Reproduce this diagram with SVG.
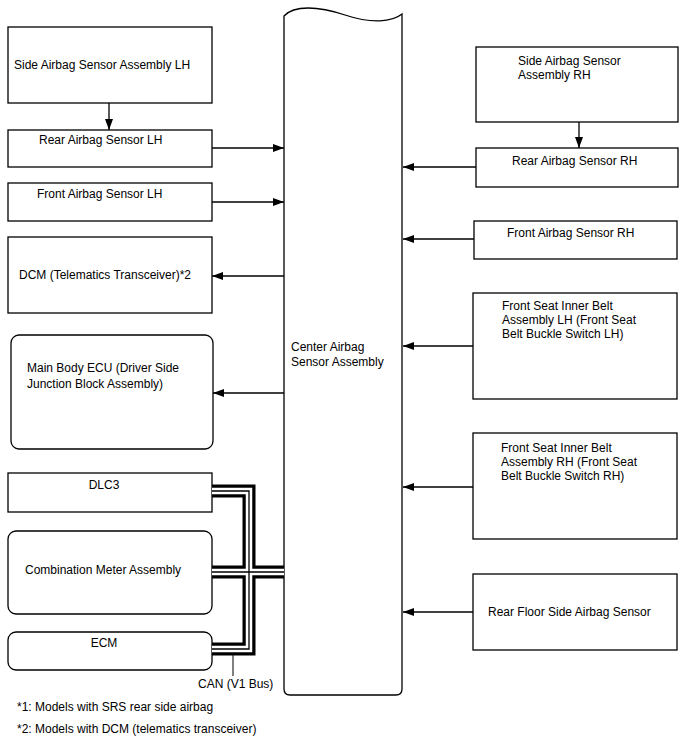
<svg xmlns="http://www.w3.org/2000/svg" width="688" height="755" viewBox="0 0 688 755">
<style>
.box{fill:#fff;stroke:#000;stroke-width:1.3}
.t{font-family:"Liberation Sans",Arial,sans-serif;font-size:12px;fill:#000}
.c{text-anchor:middle}
.ln{fill:none;stroke:#000;stroke-width:1.3}
.b1{fill:none;stroke:#000;stroke-width:13;stroke-linejoin:miter}
.b2{fill:none;stroke:#fff;stroke-width:6.5;stroke-linejoin:miter}
.b3{fill:none;stroke:#000;stroke-width:1.3;stroke-linejoin:miter}
</style>
<defs>
<marker id="ah" markerUnits="userSpaceOnUse" markerWidth="11" markerHeight="8" refX="11" refY="4" orient="auto">
<path d="M0,0 L11,4 L0,8 z" fill="#000"/>
</marker>
</defs>
<rect width="688" height="755" fill="#fff"/>

<g id="center">
<path class="box" d="M284,16 C294,5 318,6 345,15 C372,24 392,22 402,14 V689 Q402,695 396,695 H290 Q284,695 284,689 Z"/>
<text class="t" x="291" y="351">Center Airbag</text>
<text class="t" x="291" y="366">Sensor Assembly</text>
</g>

<g id="side-lh"><rect class="box" x="8" y="27" width="204" height="76"/><text class="t" x="14" y="69">Side Airbag Sensor Assembly LH</text></g>
<g id="rear-lh"><rect class="box" x="8" y="130" width="204" height="37"/><text class="t" x="39" y="144">Rear Airbag Sensor LH</text></g>
<g id="front-lh"><rect class="box" x="8" y="183" width="204" height="38"/><text class="t" x="37" y="198">Front Airbag Sensor LH</text></g>
<g id="dcm"><rect class="box" x="8" y="237" width="204" height="76"/><text class="t" x="19" y="279">DCM (Telematics Transceiver)*2</text></g>
<g id="main-body"><rect class="box" x="11" y="335" width="202" height="114" rx="8"/><text class="t" x="27" y="372">Main Body ECU (Driver Side</text><text class="t" x="27" y="388">Junction Block Assembly)</text></g>
<g id="dlc3"><rect class="box" x="8" y="473" width="204" height="39"/><text class="t c" x="104" y="489">DLC3</text></g>
<g id="meter"><rect class="box" x="8" y="531" width="204" height="83" rx="8"/><text class="t" x="25" y="574">Combination Meter Assembly</text></g>
<g id="ecm"><rect class="box" x="8" y="632" width="204" height="38" rx="8"/><text class="t c" x="104" y="647">ECM</text></g>

<g id="side-rh"><rect class="box" x="476" y="47" width="202" height="75"/><text class="t" x="518" y="65">Side Airbag Sensor</text><text class="t" x="518" y="79">Assembly RH</text></g>
<g id="rear-rh"><rect class="box" x="476" y="148" width="202" height="39"/><text class="t" x="512" y="165">Rear Airbag Sensor RH</text></g>
<g id="front-rh"><rect class="box" x="474" y="221" width="203" height="38"/><text class="t" x="507" y="237">Front Airbag Sensor RH</text></g>
<g id="belt-lh"><rect class="box" x="473" y="293" width="204" height="106"/><text class="t" x="502" y="310">Front Seat Inner Belt</text><text class="t" x="502" y="324">Assembly LH (Front Seat</text><text class="t" x="502" y="338">Belt Buckle Switch LH)</text></g>
<g id="belt-rh"><rect class="box" x="473" y="433" width="204" height="106"/><text class="t" x="501" y="452">Front Seat Inner Belt</text><text class="t" x="501" y="466">Assembly RH (Front Seat</text><text class="t" x="501" y="480">Belt Buckle Switch RH)</text></g>
<g id="rear-floor"><rect class="box" x="473" y="574" width="204" height="76"/><text class="t" x="488" y="616">Rear Floor Side Airbag Sensor</text></g>

<g id="connectors">
<path class="ln" d="M109,103 V130" marker-end="url(#ah)"/>
<path class="ln" d="M212,148 H284" marker-end="url(#ah)"/>
<path class="ln" d="M212,202 H284" marker-end="url(#ah)"/>
<path class="ln" d="M284,276 H212" marker-end="url(#ah)"/>
<path class="ln" d="M284,393 H213" marker-end="url(#ah)"/>
<path class="ln" d="M579,122 V148" marker-end="url(#ah)"/>
<path class="ln" d="M476,167 H403" marker-end="url(#ah)"/>
<path class="ln" d="M474,239 H403" marker-end="url(#ah)"/>
<path class="ln" d="M473,346 H403" marker-end="url(#ah)"/>
<path class="ln" d="M473,487 H403" marker-end="url(#ah)"/>
<path class="ln" d="M473,612 H403" marker-end="url(#ah)"/>
<g id="can-bus">
<path class="b1" d="M212,491 H249 V572 M212,572 H284 M212,649 H249 V572"/>
<path class="b2" d="M212,491 H249 V572 M212,572 H284 M212,649 H249 V572"/>
<path class="b3" d="M212,491 H249 V572 M212,572 H284 M212,649 H249 V572"/>
<path class="ln" d="M233,655 V676" style="stroke-width:1"/>
</g>
</g>
<text class="t" x="198" y="688">CAN (V1 Bus)</text>
<text class="t" x="17" y="711">*1: Models with SRS rear side airbag</text>
<text class="t" x="17" y="733">*2: Models with DCM (telematics transceiver)</text>
</svg>
